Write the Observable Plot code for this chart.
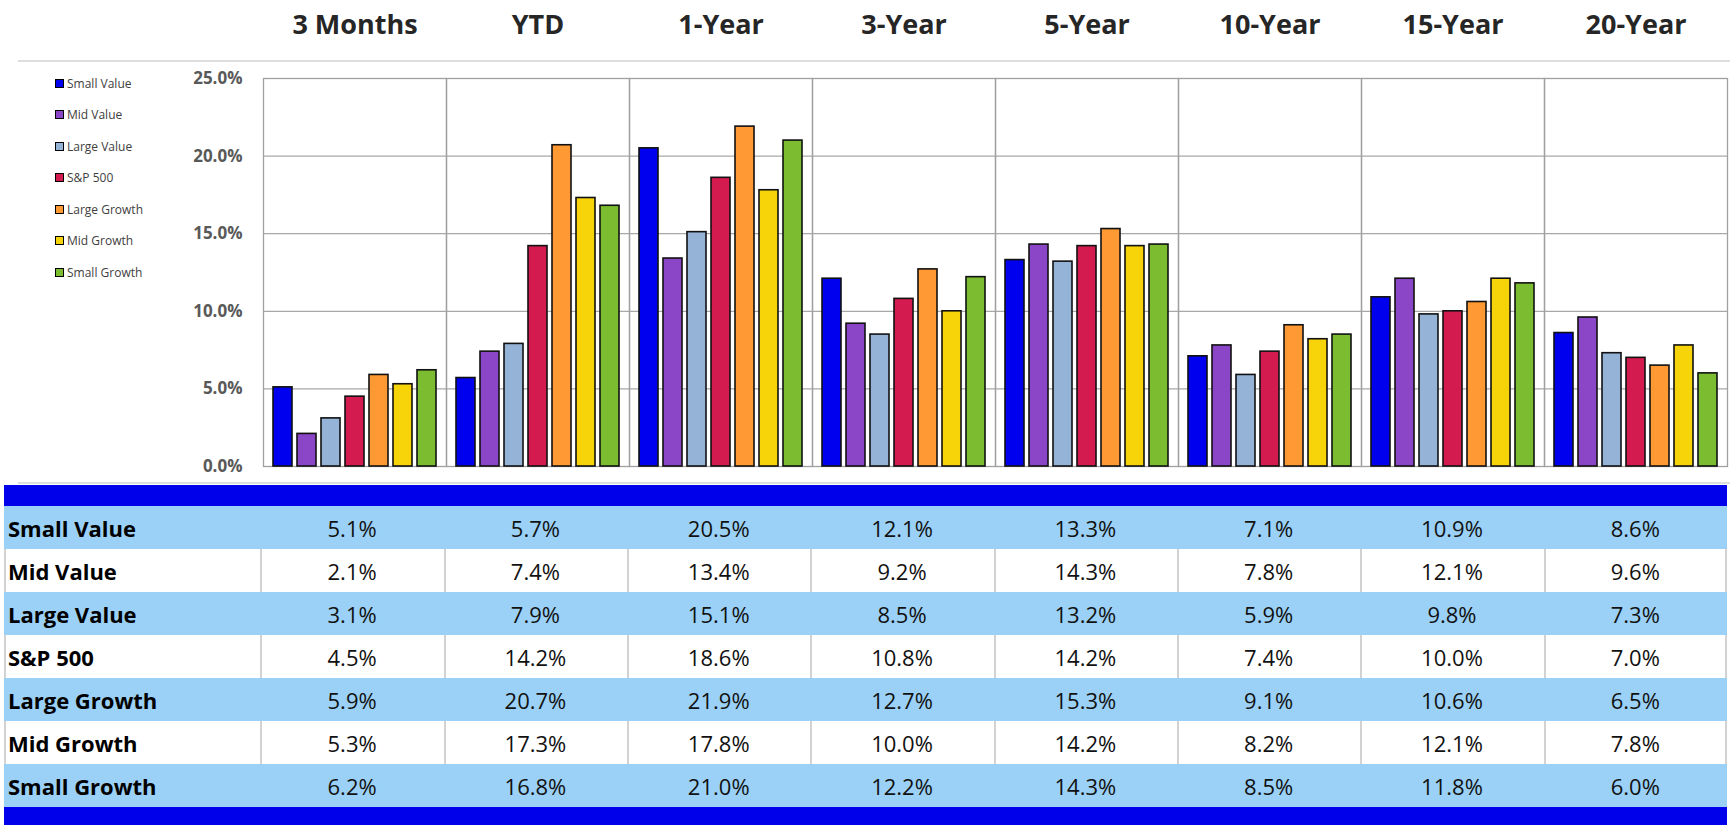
<!DOCTYPE html>
<html><head><meta charset="utf-8">
<script src="https://cdn.jsdelivr.net/npm/d3@7"></script>
<script src="https://cdn.jsdelivr.net/npm/@observablehq/plot@0.6"></script>
<style>
html,body{margin:0;padding:0;background:#fff;}
#wrap{position:relative;width:1730px;height:825px;overflow:hidden;font-family:"Open Sans",sans-serif;}
#chart{position:absolute;left:0;top:0;}
.hline{position:absolute;left:18px;right:0;height:2px;background:#dedede;}
#legend{position:absolute;left:55px;top:74px;}
.li{position:absolute;left:0;display:flex;align-items:center;white-space:nowrap;font-size:12px;color:#404040;height:18px;}
.sw{width:7px;height:7px;border:1px solid #000;margin-right:3px;}
#tbl{position:absolute;left:4px;top:485px;border-collapse:separate;border-spacing:0;table-layout:fixed;width:1723px;}
#tbl td{padding:0;height:43px;font-size:22px;color:#111;text-align:center;vertical-align:middle;box-sizing:border-box;}
#tbl td.lab{text-align:left;font-weight:700;padding-left:4px;color:#000;}
#tbl tr.band td{background:#0000EB;height:21px;}
#tbl tr.bandb td{height:18px;background:#0000EB;}
#tbl tr.lb td{background:#9BD1F7;}
#tbl tr.wh td{background:#fff;box-shadow:inset 2px 0 0 #d2d2d2;}
#tbl tr.wh td:last-child{box-shadow:inset 2px 0 0 #d2d2d2, inset -2px 0 0 #d2d2d2;}
</style></head><body><div id="wrap">
<div class="hline" style="top:60px"></div>
<div class="hline" style="top:482px"></div>
<div id="chart"></div>
<div id="legend"></div>
<table id="tbl"></table>
</div>
<script>
const periods = ["3 Months", "YTD", "1-Year", "3-Year", "5-Year", "10-Year", "15-Year", "20-Year"];
const series = ["Small Value", "Mid Value", "Large Value", "S&P 500", "Large Growth", "Mid Growth", "Small Growth"];
const smallValue  = [5.1, 5.7, 20.5, 12.1, 13.3, 7.1, 10.9, 8.6];
const midValue    = [2.1, 7.4, 13.4, 9.2, 14.3, 7.8, 12.1, 9.6];
const largeValue  = [3.1, 7.9, 15.1, 8.5, 13.2, 5.9, 9.8, 7.3];
const sp500       = [4.5, 14.2, 18.6, 10.8, 14.2, 7.4, 10.0, 7.0];
const largeGrowth = [5.9, 20.7, 21.9, 12.7, 15.3, 9.1, 10.6, 6.5];
const midGrowth   = [5.3, 17.3, 17.8, 10.0, 14.2, 8.2, 12.1, 7.8];
const smallGrowth = [6.2, 16.8, 21.0, 12.2, 14.3, 8.5, 11.8, 6.0];
const yTicks = [0, 5, 10, 15, 20, 25];

const seriesValues = [smallValue, midValue, largeValue, sp500, largeGrowth, midGrowth, smallGrowth];
const colors = ["#0000EE", "#8B45C7", "#95B3D7", "#D31B4F", "#FF9933", "#F7D40A", "#7BBC30"];

const data = [];
series.forEach((s, i) => periods.forEach((p, j) => data.push({series: s, period: p, value: seriesValues[i][j]})));

const fmt = d => d.toFixed(1) + "%";

const chart = Plot.plot({
  width: 1730,
  height: 485,
  marginTop: 78,
  marginBottom: 19,
  marginLeft: 263,
  marginRight: 3,
  style: {fontFamily: "Open Sans", background: "transparent", overflow: "visible"},
  fx: {domain: periods, padding: 0},
  x: {domain: series, paddingInner: 0.2, paddingOuter: 0.36, axis: null},
  y: {domain: [0, 25]},
  color: {domain: series, range: colors},
  marks: [
    Plot.gridY(yTicks, {stroke: "#a8a8a8", strokeOpacity: 1, strokeWidth: 1.2}),
    Plot.frame({stroke: "#a0a0a0", strokeWidth: 1.3}),
    Plot.barY(data, {fx: "period", x: "series", y: "value", fill: "series", stroke: "#111", strokeWidth: 1.6}),
    Plot.axisY(yTicks, {tickSize: 0, tickPadding: 21, tickFormat: fmt, label: null, fontSize: 17, fontWeight: "bold", fill: "#595959"}),
    Plot.axisFx({anchor: "top", tickSize: 0, tickPadding: 45, label: null, fontSize: 27, fontWeight: "bold", fill: "#262626"})
  ]
});
document.getElementById("chart").appendChild(chart);

// legend
const leg = document.getElementById("legend");
series.forEach((s, i) => {
  const d = document.createElement("div");
  d.className = "li";
  d.style.top = (i * 31.5) + "px";
  d.innerHTML = `<span class="sw" style="background:${colors[i]}"></span>${s.replace("&", "&amp;")}`;
  leg.appendChild(d);
});

// table
const tbl = document.getElementById("tbl");
const cg = document.createElement("colgroup");
cg.innerHTML = `<col style="width:256px">` + periods.map(() => `<col style="width:183px">`).join("");
tbl.appendChild(cg);
const topBand = document.createElement("tr");
topBand.className = "band";
topBand.innerHTML = `<td colspan="${periods.length + 1}"></td>`;
tbl.appendChild(topBand);
series.forEach((s, i) => {
  const tr = document.createElement("tr");
  tr.className = i % 2 === 0 ? "lb" : "wh";
  const lab = document.createElement("td");
  lab.className = "lab";
  lab.textContent = s;
  tr.appendChild(lab);
  seriesValues[i].forEach(v => {
    const td = document.createElement("td");
    td.textContent = fmt(v);
    tr.appendChild(td);
  });
  tbl.appendChild(tr);
});
const botBand = document.createElement("tr");
botBand.className = "bandb";
botBand.innerHTML = `<td colspan="${periods.length + 1}"></td>`;
tbl.appendChild(botBand);
</script>
</body></html>
